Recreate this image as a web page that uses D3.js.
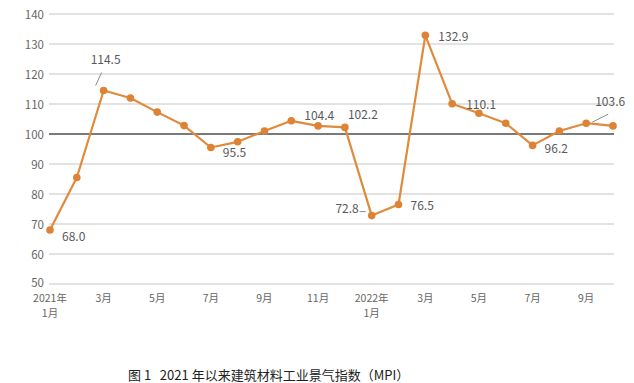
<!DOCTYPE html>
<html><head><meta charset="utf-8">
<script src="https://cdn.jsdelivr.net/npm/d3@7"></script>
<style>
html,body{margin:0;padding:0;background:#fff;}
svg{display:block;}
text{font-family:"Noto Sans CJK SC","Noto Sans",sans-serif;}
</style></head>
<body>
<svg id="chart" width="634" height="383"></svg>
<script>
// ---- data ----
const months = ["2021年1月","2月","3月","4月","5月","6月","7月","8月","9月","10月","11月","12月",
                "2022年1月","2月","3月","4月","5月","6月","7月","8月","9月","10月"];
const mpi = [68.0,85.5,114.5,112.0,107.3,102.8,95.5,97.4,101.0,104.4,102.7,102.2,
             72.8,76.5,132.9,110.1,106.9,103.6,96.2,101.0,103.6,102.7];
const tickLabels = [["2021年","1月"],["3月"],["5月"],["7月"],["9月"],["11月"],
                    ["2022年","1月"],["3月"],["5月"],["7月"],["9月"]];
const tickIndex = [0,2,4,6,8,10,12,14,16,18,20];
const yTicks = [50,60,70,80,90,100,110,120,130,140];
const labeled = [0,2,6,9,11,12,13,14,15,18,20];
const caption = "图 1   2021 年以来建筑材料工业景气指数（MPI）";

// ---- label placement (style) ----
const labelPos = {
  0:{dx:12,dy:8,anchor:"start"},
  2:{dx:2,dy:-30,anchor:"middle",leader:[[-2,-18],[-8,-5]]},
  6:{dx:12,dy:6,anchor:"start"},
  9:{dx:13,dy:-4,anchor:"start"},
  11:{dx:3,dy:-12,anchor:"start"},
  12:{dx:-13,dy:-6,anchor:"end",leader:[[-12,-4],[-6,-4]]},
  13:{dx:12,dy:2,anchor:"start"},
  14:{dx:13,dy:2,anchor:"start"},
  15:{dx:14,dy:2,anchor:"start"},
  18:{dx:12,dy:4,anchor:"start"},
  20:{dx:9,dy:-20,anchor:"start",leader:[[22,-9],[6,-1]]}
};

const svg = d3.select("#chart");
const x = d3.scalePoint().domain(d3.range(months.length)).range([50,613]);
const y = d3.scaleLinear().domain([50,140]).range([284,14]);

// gridlines
svg.append("g").selectAll("line").data(yTicks).join("line")
  .attr("x1",49).attr("x2",614)
  .attr("y1",d=>y(d)).attr("y2",d=>y(d))
  .attr("stroke",d=>d===100?"#7a7a7a":"#d9d9d9")
  .attr("stroke-width",d=>d===100?2:1.3);

// y labels
const yAxis = d3.axisLeft(y).tickValues(yTicks).tickSize(0).tickPadding(0);
const gy = svg.append("g").attr("transform","translate(44,0)").call(yAxis);
gy.select(".domain").remove();
gy.selectAll("text").attr("fill","#666").attr("font-size",11.5)
  .attr("font-family","\"Noto Sans CJK SC\",sans-serif")
  .attr("dy",d=>d===50?"0.2em":"0.35em");

// x labels
const gx = svg.append("g");
tickIndex.forEach((idx,i)=>{
  tickLabels[i].forEach((s,j)=>{
    gx.append("text").attr("x",x(idx)).attr("y",301.5+j*15.5)
      .attr("text-anchor","middle").attr("fill","#666").attr("font-size",10.5)
      .text(s);
  });
});

// line
const line = d3.line().x((d,i)=>x(i)).y(d=>y(d));
svg.append("path").datum(mpi).attr("d",line)
  .attr("fill","none").attr("stroke","#E08A3C").attr("stroke-width",2.2)
  .attr("stroke-linejoin","round");
svg.append("g").selectAll("circle").data(mpi).join("circle")
  .attr("cx",(d,i)=>x(i)).attr("cy",d=>y(d)).attr("r",3.8)
  .attr("fill","#DE8236");

// data labels
const gl = svg.append("g");
labeled.forEach(i=>{
  const p = labelPos[i];
  const cx = x(i), cy = y(mpi[i]);
  if(p.leader){
    gl.append("line")
      .attr("x1",cx+p.leader[0][0]).attr("y1",cy+p.leader[0][1])
      .attr("x2",cx+p.leader[1][0]).attr("y2",cy+p.leader[1][1])
      .attr("stroke","#8c8c8c").attr("stroke-width",1);
  }
  gl.append("text").attr("x",cx+p.dx).attr("y",cy+p.dy)
    .attr("dominant-baseline","middle")
    .attr("text-anchor",p.anchor).attr("fill","#595959").attr("font-size",12)
    .text(mpi[i].toFixed(1));
});

// caption
svg.append("text").attr("x",128).attr("y",380)
  .attr("fill","#222").attr("font-size",13)
  .style("white-space","pre")
  .text(caption);
</script>
</body></html>
